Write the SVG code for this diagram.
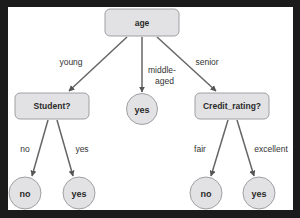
<svg xmlns="http://www.w3.org/2000/svg" width="300" height="218" viewBox="0 0 300 218">
<style>
.box{fill:#e2e2e4;stroke:#a0a0a4;stroke-width:1}
.nt{font-family:"Liberation Sans",Arial,sans-serif;font-size:8.5px;font-weight:bold;fill:#2a2a2a;text-anchor:middle}
.ct{font-family:"Liberation Sans",Arial,sans-serif;font-size:9px;font-weight:bold;fill:#2a2a2a;text-anchor:middle}
.lb{font-family:"Liberation Sans",Arial,sans-serif;font-size:8.5px;fill:#333}
.edge{stroke:#666;stroke-width:1.5;fill:none;marker-end:url(#ah)}
</style>
<defs>
<marker id="ah" viewBox="0 0 10 10" refX="9" refY="5" markerWidth="4" markerHeight="4" orient="auto" markerUnits="strokeWidth">
<path d="M0,0 L10,5 L0,10 z" fill="#555"/>
</marker>
</defs>
<rect x="0" y="0" width="300" height="218" fill="#1b1b1b"/>
<rect x="8" y="7" width="285" height="203" fill="#ffffff"/>
<g id="connectors">
<line class="edge" x1="127" y1="37" x2="69" y2="91"/>
<line class="edge" x1="142" y1="37" x2="142" y2="92"/>
<line class="edge" x1="157" y1="37" x2="216" y2="91"/>
<line class="edge" x1="48" y1="120" x2="32" y2="176"/>
<line class="edge" x1="57" y1="120" x2="73" y2="176"/>
<line class="edge" x1="228" y1="120" x2="211" y2="176"/>
<line class="edge" x1="237" y1="120" x2="254" y2="176"/>
</g>
<g id="labels">
<text class="lb" x="71" y="65" text-anchor="middle">young</text>
<text class="lb" x="148" y="73">middle-</text>
<text class="lb" x="155" y="84">aged</text>
<text class="lb" x="207" y="65" text-anchor="middle">senior</text>
<text class="lb" x="25" y="152" text-anchor="middle">no</text>
<text class="lb" x="82" y="152" text-anchor="middle">yes</text>
<text class="lb" x="200" y="152" text-anchor="middle">fair</text>
<text class="lb" x="271" y="152" text-anchor="middle">excellent</text>
</g>
<g id="age"><rect class="box" x="105" y="9" width="74" height="27" rx="5"/><text class="nt" x="142" y="26">age</text></g>
<g id="student"><rect class="box" x="15" y="93" width="74" height="26" rx="5"/><text class="nt" x="52" y="109">Student?</text></g>
<g id="credit"><rect class="box" x="195" y="93" width="74" height="26" rx="5"/><text class="nt" x="232" y="109">Credit_rating?</text></g>
<g id="yes-mid"><circle class="box" cx="142" cy="109" r="15.5"/><text class="ct" x="142" y="112.5">yes</text></g>
<g id="no-left"><circle class="box" cx="25" cy="193" r="16"/><text class="ct" x="25" y="196.5">no</text></g>
<g id="yes-left"><circle class="box" cx="79" cy="193" r="16"/><text class="ct" x="79" y="196.5">yes</text></g>
<g id="no-right"><circle class="box" cx="206" cy="193" r="16"/><text class="ct" x="206" y="196.5">no</text></g>
<g id="yes-right"><circle class="box" cx="259" cy="193" r="16"/><text class="ct" x="259" y="196.5">yes</text></g>
</svg>
